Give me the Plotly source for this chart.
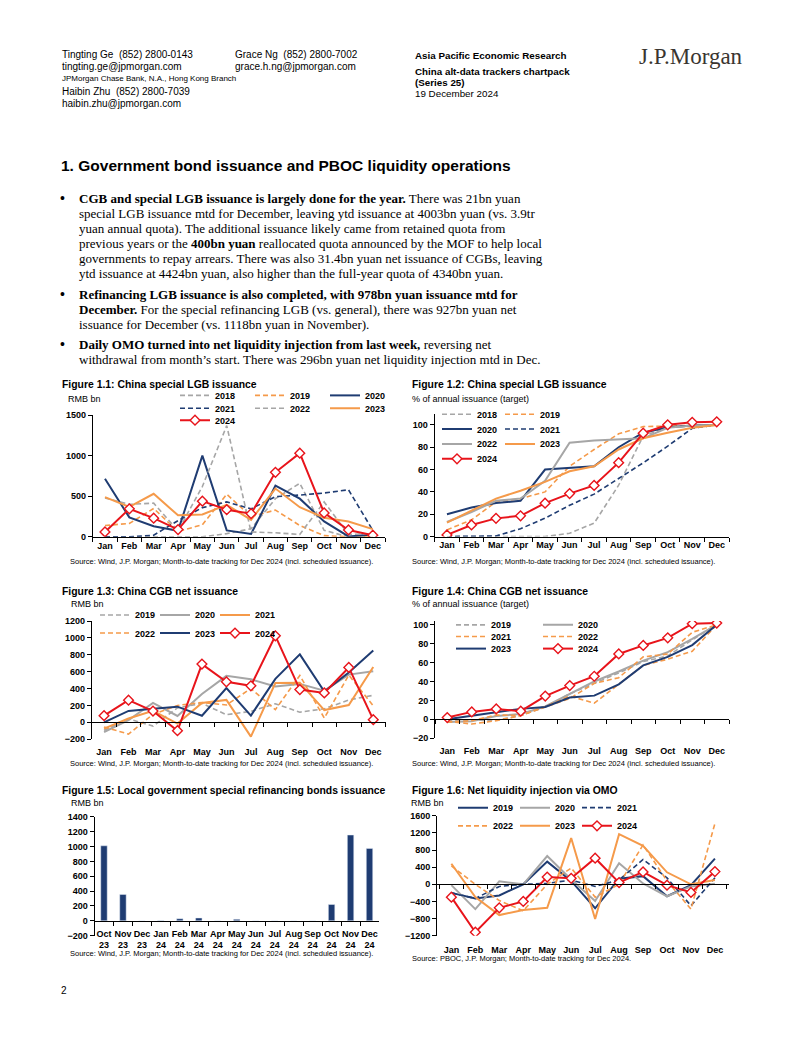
import plotly.graph_objects as go

W, H = 802, 1037
OFF = 8  # browser body margin
FW, FH = W - OFF, H - OFF

months = ["Jan", "Feb", "Mar", "Apr", "May", "Jun", "Jul", "Aug", "Sep", "Oct", "Nov", "Dec"]

# Figure 1.1: China special LGB issuance, RMB bn (monthly)
lgb_2018 = [0, 0, 0, 0, 0, 40, 100, 470, 660, 80, 0, 0]
lgb_2019 = [140, 165, 350, 65, 150, 525, 250, 330, 140, 15, 0, 0]
lgb_2020 = [715, 240, 130, 75, 1000, 80, 35, 630, 470, 190, 5, 30]
lgb_2021 = [0, 0, 20, 200, 360, 430, 345, 495, 515, 540, 580, 80]
lgb_2022 = [480, 400, 415, 75, 620, 1370, 60, 50, 30, 430, 30, 40]
lgb_2023 = [490, 370, 530, 265, 275, 395, 210, 595, 365, 235, 190, 95]
lgb_2024 = [60, 345, 230, 90, 440, 335, 285, 795, 1030, 295, 85, 21]

# Figure 1.2: China special LGB issuance, % of annual issuance (cumulative)
lgbc_2018 = [0, 0, 0, 0, 0, 3, 12, 46, 90, 98, 99, 100]
lgbc_2019 = [6, 15, 31, 34, 40, 63, 78, 92, 98.5, 99, 99.5, 100]
lgbc_2020 = [20, 26, 30, 32, 60, 61.5, 63, 80, 93, 98, 99.5, 100]
lgbc_2021 = [0, 0, 0.5, 7, 16.5, 28, 38, 52, 66, 81, 97, 100]
lgbc_2022 = [13, 22, 32, 34, 50, 84, 86, 87, 88, 97.5, 99.5, 100]
lgbc_2023 = [12.5, 23, 34, 41, 49, 58.5, 63, 78, 88, 93, 97.5, 100]
lgbc_2024 = [1.5, 10.4, 16.3, 18.6, 29.9, 38.5, 45.8, 66.2, 92.6, 100.1, 102.3, 102.8]

# Figure 1.3: China CGB net issuance, RMB bn
cgb_2019 = [-95, 40, -45, 170, 225, 90, 130, 220, 120, 160, 265, 320]
cgb_2020 = [-115, 25, 230, 75, 335, 550, 510, 425, 455, 375, 565, 605]
cgb_2021 = [-75, 45, 135, -15, 230, 265, -170, 465, 470, 145, 205, 655]
cgb_2022 = [-55, -140, 95, 200, 235, 205, 400, 150, 555, 50, 560, 195]
cgb_2023 = [0, 135, 160, 185, 78, 405, 80, 515, 805, 365, 590, 850]
cgb_2024 = [78, 262, 133, -100, 690, 480, 432, 1025, 388, 348, 650, 31.4]

# Figure 1.4: China CGB net issuance, % of annual issuance (cumulative)
cgbc_2019 = [-1, -1, -1, 4, 13, 27, 38, 49, 61, 67, 84, 100]
cgbc_2020 = [-3, -2, 3.5, 5.5, 13.5, 27, 40, 50.5, 62, 71, 85, 100]
cgbc_2021 = [-3, -1.5, 4.5, 4, 13.5, 24.5, 17, 37, 57, 63.5, 72, 100]
cgbc_2022 = [-2, -5, -1.5, 4, 13, 22, 38, 44, 66, 69, 92, 100]
cgbc_2023 = [0, 4, 7.5, 11, 13, 23, 25, 37, 57, 66, 78.5, 100]
cgbc_2024 = [1.8, 7.8, 10.9, 8.6, 24.5, 35.6, 45.5, 69.1, 78.1, 86.1, 101.1, 101.8]

# Figure 1.5: Local government special refinancing bonds issuance, RMB bn
refi_months = ["Oct<br>23", "Nov<br>23", "Dec<br>23", "Jan<br>24", "Feb<br>24", "Mar<br>24", "Apr<br>24",
               "May<br>24", "Jun<br>24", "Jul<br>24", "Aug<br>24", "Sep<br>24", "Oct<br>24", "Nov<br>24",
               "Dec<br>24"]
refi_values = [1010, 355, 0, 3, 28, 38, 0, 20, 0, 0, 0, 0, 220, 1155, 975]

# Figure 1.6: Net liquidity injection via OMO, RMB bn
omo_2019 = [-200, -330, -260, 0, 530, 80, -560, 130, 190, -280, -20, 600]
omo_2020 = [-20, -580, 70, 0, 660, 110, -390, 490, 20, -280, -50, 10]
omo_2021 = [-200, -330, -50, 0, 20, 100, -50, 100, 580, 150, -500, 150]
omo_2022 = [430, 0, -380, -620, 0, 380, -300, 0, 920, 80, -580, 1420]
omo_2023 = [480, -300, -720, -600, -550, 1080, -810, 1170, 900, 280, 0, 100]
omo_2024 = [-300, -1120, -550, -400, 170, 140, 610, 40, 290, -20, -190, 296]

NAVY = "#1F3C72"
GREY = "#A6A6A6"
ORANGE = "#F59A4A"
RED = "#E8141B"

SANS = "Liberation Sans, Arial, sans-serif"
SERIF = "Liberation Serif, Times New Roman, serif"

STY = {
    "grey_dash": dict(color=GREY, width=1.6, dash="5px,3px"),
    "grey_solid": dict(color=GREY, width=2),
    "orange_dash": dict(color=ORANGE, width=1.6, dash="5px,3px"),
    "orange_solid": dict(color=ORANGE, width=2),
    "navy_solid": dict(color=NAVY, width=2),
    "navy_dash": dict(color=NAVY, width=1.6, dash="5px,3px"),
    "red": dict(color=RED, width=2),
}


def PX(x):
    return (x - OFF) / FW


def PY(y):
    return 1 - (y - OFF) / FH


fig = go.Figure()
layout = {}
legend_n = [0]

TICKFONT = dict(family=SANS, size=9, color="black", weight="bold")


def axis_names(i):
    return ("xaxis" if i == 1 else f"xaxis{i}", "yaxis" if i == 1 else f"yaxis{i}",
            "x" if i == 1 else f"x{i}", "y" if i == 1 else f"y{i}")


def setup_axes(i, xd, yd, yr, yt, cats, standoff=None, xrange=None):
    xa, ya, xr, yrf = axis_names(i)
    ybot, ytop = yd
    n = len(cats)
    xrng = xrange if xrange else [-0.5, n - 0.5]
    xdict = dict(domain=[PX(xd[0]), PX(xd[1])], type="category", categoryorder="array",
                 categoryarray=cats, range=xrng, tickson="boundaries", ticks="outside",
                 ticklen=4, tickcolor="black", showline=True, linecolor="black", linewidth=1,
                 showgrid=False, zeroline=False, tickfont=TICKFONT, tickangle=0, fixedrange=True)
    if yr[0] < 0:
        zero_px = ybot + (0 - yr[0]) / (yr[1] - yr[0]) * (ytop - ybot)
        xdict.update(anchor="free", position=PY(zero_px))
        if standoff:
            xdict.update(ticklabelstandoff=standoff)
    else:
        xdict.update(anchor=yrf)
    layout[xa] = xdict
    layout[ya] = dict(domain=[PY(ybot), PY(ytop)], range=list(yr), tickvals=yt, ticks="outside",
                      ticklen=4, tickcolor="black", showline=True, linecolor="black", linewidth=1,
                      showgrid=False, zeroline=False, anchor=xr, tickfont=TICKFONT, fixedrange=True)


def add_rows(i, cats, rows, row_y, col_x):
    _, _, xr, yrf = axis_names(i)
    step = col_x[1] - col_x[0] if len(col_x) > 1 else 60
    for r, row in enumerate(rows):
        legend_n[0] += 1
        lname = "legend" if legend_n[0] == 1 else f"legend{legend_n[0]}"
        for name, vals, sty in row:
            kw = dict(x=cats, y=vals, name=name, legend=lname, xaxis=xr, yaxis=yrf,
                      line=STY[sty], hoverinfo="skip")
            if sty == "red":
                kw.update(mode="lines+markers",
                          marker=dict(symbol="diamond", size=7.5, color="white",
                                      line=dict(color=RED, width=1.4)))
            else:
                kw.update(mode="lines")
            fig.add_trace(go.Scatter(**kw))
        layout[lname] = dict(x=PX(col_x[0] - 40), y=PY(row_y[r] - 14.5), xanchor="left",
                             yanchor="top", orientation="h", entrywidth=step - 45,
                             entrywidthmode="pixels", itemwidth=30, bgcolor="rgba(0,0,0,0)",
                             font=dict(family=SANS, size=9, color="black", weight="bold"),
                             traceorder="normal")


# ---------- Figure 1.1 ----------
setup_axes(1, (92.8, 385), (537, 414), (0, 1500), [0, 500, 1000, 1500], months)
add_rows(1, months,
         [[("2018", lgb_2018, "grey_dash"), ("2019", lgb_2019, "orange_dash"), ("2020", lgb_2020, "navy_solid")],
          [("2021", lgb_2021, "navy_dash"), ("2022", lgb_2022, "grey_dash"), ("2023", lgb_2023, "orange_solid")],
          [("2024", lgb_2024, "red")]],
         [394, 407, 419], [215, 290, 365])

# ---------- Figure 1.2 ----------
setup_axes(2, (434.7, 729), (536.7, 412.7), (0, 110), [0, 20, 40, 60, 80, 100], months)
add_rows(2, months,
         [[("2018", lgbc_2018, "grey_dash"), ("2019", lgbc_2019, "orange_dash")],
          [("2020", lgbc_2020, "navy_solid"), ("2021", lgbc_2021, "navy_dash")],
          [("2022", lgbc_2022, "grey_solid"), ("2023", lgbc_2023, "orange_solid")],
          [("2024", lgbc_2024, "red")]],
         [413, 428, 443, 458], [477, 540])

# ---------- Figure 1.3 ----------
setup_axes(3, (91.8, 385.5), (741.3, 622), (-200, 1200), list(range(-200, 1201, 200)), months, standoff=21)
add_rows(3, months,
         [[("2019", cgb_2019, "grey_dash"), ("2020", cgb_2020, "grey_solid"), ("2021", cgb_2021, "orange_solid")],
          [("2022", cgb_2022, "orange_dash"), ("2023", cgb_2023, "navy_solid"), ("2024", cgb_2024, "red")]],
         [615.7, 634], [135, 195, 255])

# ---------- Figure 1.4 ----------
setup_axes(4, (435, 729), (740.3, 621.9), (-20, 104), list(range(-20, 101, 20)), months, standoff=23)
add_rows(4, months,
         [[("2019", cgbc_2019, "grey_dash"), ("2020", cgbc_2020, "grey_solid")],
          [("2021", cgbc_2021, "orange_dash"), ("2022", cgbc_2022, "orange_dash")],
          [("2023", cgbc_2023, "navy_solid"), ("2024", cgbc_2024, "red")]],
         [625.7, 637.5, 649.7], [491, 578])

# ---------- Figure 1.5 ----------
setup_axes(5, (94.5, 379), (939.7, 819.7), (-200, 1400), list(range(-200, 1401, 200)), refi_months,
           standoff=4)
fig.add_trace(go.Bar(x=refi_months, y=refi_values, xaxis="x5", yaxis="y5", marker_color=NAVY,
                     width=0.34, showlegend=False, hoverinfo="skip"))

# ---------- Figure 1.6 ----------
setup_axes(6, (437, 729.3), (939.7, 818.7), (-1200, 1600), list(range(-1200, 1601, 400)), months,
           standoff=57, xrange=[-0.6, 11.6])
add_rows(6, months,
         [[("2019", omo_2019, "navy_solid"), ("2020", omo_2020, "grey_solid"), ("2021", omo_2021, "navy_dash")],
          [("2022", omo_2022, "orange_dash"), ("2023", omo_2023, "orange_solid"), ("2024", omo_2024, "red")]],
         [810.3, 828.7], [493, 555, 616])

# ---------- Text ----------
ann = []
NB = "\u00a0"


def T(x, y, text, size=10, family=SANS, color="black", bold=False):
    if bold:
        text = f"<b>{text}</b>"
    ann.append(dict(x=PX(x), y=PY(y), xref="paper", yref="paper", xanchor="left", yanchor="middle",
                    text=text, showarrow=False, font=dict(family=family, size=size, color=color)))


# header
T(60, 50, f"Tingting Ge{NB}{NB}(852) 2800-0143", 10)
T(60, 62, "tingting.ge@jpmorgan.com", 10)
T(60, 74, "JPMorgan Chase Bank, N.A., Hong Kong Branch", 8)
T(60, 87, f"Haibin Zhu{NB}{NB}(852) 2800-7039", 10)
T(60, 99, "haibin.zhu@jpmorgan.com", 10)
T(233, 50, f"Grace Ng{NB}{NB}(852) 2800-7002", 10)
T(233, 62, "grace.h.ng@jpmorgan.com", 10)
T(413, 51, "Asia Pacific Economic Research", 9.8, bold=True)
T(413, 67, "China alt-data trackers chartpack", 9.8, bold=True)
T(413, 78, "(Series 25)", 9.8, bold=True)
T(413, 89, "19 December 2024", 9.8)
T(637, 52, "J.P.Morgan", 23, family=SERIF, color="#3A3530")

# section title
T(59, 162, "1. Government bond issuance and PBOC liquidity operations", 15.5, bold=True)

body = [
    (195, "<b>CGB and special LGB issuance is largely done for the year.</b> There was 21bn yuan", True),
    (210.5, "special LGB issuance mtd for December, leaving ytd issuance at 4003bn yuan (vs. 3.9tr", False),
    (225.5, "yuan annual quota). The additional issuance likely came from retained quota from", False),
    (240.5, "previous years or the <b>400bn yuan</b> reallocated quota announced by the MOF to help local", False),
    (256, "governments to repay arrears. There was also 31.4bn yuan net issuance of CGBs, leaving", False),
    (271.5, "ytd issuance at 4424bn yuan, also higher than the full-year quota of 4340bn yuan.", False),
    (292.5, "<b>Refinancing LGB issuance is also completed, with 978bn yuan issuance mtd for</b>", True),
    (307.5, "<b>December.</b> For the special refinancing LGB (vs. general), there was 927bn yuan net", False),
    (322.5, "issuance for December (vs. 1118bn yuan in November).", False),
    (342.5, "<b>Daily OMO turned into net liquidity injection from last week,</b> reversing net", True),
    (357.5, "withdrawal from month\u2019s start. There was 296bn yuan net liquidity injection mtd in Dec.", False),
]
for y, line, bullet in body:
    if bullet:
        T(58, y, "<b>\u2022</b>", 14, family=SERIF)
    T(77, y, line, 13, family=SERIF)

# chart titles / units / sources
SRC = "Source: Wind, J.P. Morgan; Month-to-date tracking for Dec 2024 (incl. scheduled issuance)."
TS = 10.4
SS = 7.5
T(60, 383, "Figure 1.1: China special LGB issuance", TS, bold=True)
T(66, 397.5, "RMB bn", 9)
T(68, 562, SRC, SS)

T(410, 383, "Figure 1.2: China special LGB issuance", TS, bold=True)
T(410, 397.5, "% of annual issuance (target)", 9)
T(410, 562, SRC, SS)

T(60, 592, "Figure 1.3: China CGB net issuance", TS, bold=True)
T(69, 604.5, "RMB bn", 9)
T(68, 765.5, SRC, SS)

T(410, 592, "Figure 1.4: China CGB net issuance", TS, bold=True)
T(410, 605, "% of annual issuance (target)", 9)
T(410, 765.5, SRC, SS)

T(60, 793.5, "Figure 1.5: Local government special refinancing bonds issuance", TS, bold=True)
T(69, 805.5, "RMB bn", 9)
T(68, 958, SRC, SS)

T(410, 793.5, "Figure 1.6: Net liquidity injection via OMO", TS, bold=True)
T(409, 806, "RMB bn", 9)
T(410, 963, "Source: PBOC, J.P. Morgan; Month-to-date tracking for Dec 2024.", SS)

T(59, 995, "2", 10)

layout.update(dict(width=FW, height=FH, autosize=False, margin=dict(l=0, r=0, t=0, b=0, pad=0),
                   paper_bgcolor="white", plot_bgcolor="rgba(0,0,0,0)", annotations=ann,
                   showlegend=True, hovermode=False, bargap=0.6))
fig.update_layout(**layout)
fig.write_html("out.html")
